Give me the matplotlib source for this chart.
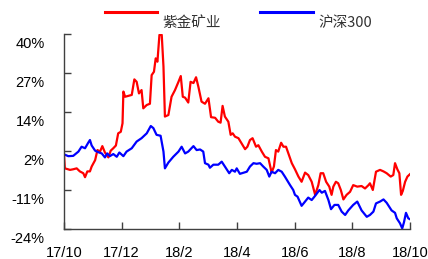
import matplotlib
matplotlib.use("Agg")
import matplotlib.pyplot as plt
from matplotlib.transforms import ScaledTranslation

plt.rcParams['font.family'] = ['Liberation Sans', 'DejaVu Sans']

# x in months since 2017/10, y in %
zj_x = [0.0, 0.03, 0.21, 0.32, 0.44, 0.55, 0.67, 0.73, 0.81, 0.90, 0.96, 1.08, 1.16, 1.25,
        1.33, 1.42, 1.54, 1.62, 1.71, 1.80, 1.88, 1.97, 2.03, 2.06, 2.12, 2.23, 2.35, 2.44,
        2.52, 2.60, 2.69, 2.75, 2.87, 2.98, 3.04, 3.12, 3.18, 3.24, 3.31, 3.39, 3.45, 3.50,
        3.62, 3.73, 3.85, 3.97, 4.05, 4.12, 4.20, 4.31, 4.39, 4.49, 4.58, 4.66, 4.77, 4.89,
        5.01, 5.10, 5.24, 5.35, 5.43, 5.50, 5.58, 5.70, 5.78, 5.85, 5.93, 6.05, 6.16, 6.28,
        6.36, 6.45, 6.54, 6.66, 6.74, 6.86, 6.97, 7.09, 7.20, 7.28, 7.35, 7.43, 7.53, 7.61,
        7.70, 7.78, 7.90, 8.01, 8.13, 8.24, 8.36, 8.47, 8.59, 8.71, 8.82, 8.90, 8.99, 9.09,
        9.20, 9.28, 9.34, 9.43, 9.51, 9.60, 9.69, 9.80, 9.92, 10.03, 10.17, 10.32, 10.44,
        10.56, 10.61, 10.71, 10.82, 10.96, 11.08, 11.19, 11.33, 11.42, 11.48, 11.56, 11.63,
        11.69, 11.75, 11.83, 11.91, 12.0]
zj_y = [0.5, -4.0, -4.5, -4.3, -4.0, -5.0, -5.6, -6.9, -5.0, -5.0, -3.4, -1.3, 2.0, 1.5,
        3.3, 1.2, -0.4, 1.8, 2.6, 3.5, 7.5, 8.0, 10.8, 21.2, 19.5, 19.8, 20.1, 25.2,
        24.4, 20.6, 21.7, 15.7, 16.8, 17.2, 26.6, 27.7, 32.1, 31.0, 39.8, 39.8, 29.4, 13.0,
        13.5, 19.5, 21.7, 24.4, 26.3, 19.5, 19.2, 17.6, 24.4, 24.0, 25.9, 22.8, 17.9, 17.2,
        19.0, 12.8, 12.6, 11.3, 11.0, 16.5, 13.0, 11.3, 7.0, 7.5, 6.4, 5.9, 4.2, 2.3,
        3.1, 5.3, 5.9, 3.1, 3.6, 1.5, -0.2, -0.7, -5.4, -3.4, 2.0, 1.5, 4.4, 3.1,
        3.1, 0.9, -2.3, -4.3, -6.7, -8.4, -5.4, -6.2, -8.4, -12.7, -9.5, -5.6, -5.6, -8.4,
        -10.0, -12.7, -10.0, -8.4, -8.9, -11.1, -14.2, -12.7, -11.7, -9.5, -10.0, -9.8, -10.6,
        -9.5, -8.9, -11.1, -5.1, -4.5, -5.0, -5.6, -6.7, -6.2, -2.3, -4.3, -5.6,
        -12.7, -11.4, -8.4, -6.7, -5.9]

hs_x = [0.0, 0.15, 0.32, 0.50, 0.61, 0.73, 0.84, 0.90, 0.96, 1.08, 1.19, 1.31, 1.42, 1.50,
        1.59, 1.71, 1.83, 1.92, 2.06, 2.17, 2.35, 2.52, 2.69, 2.87, 3.01, 3.10, 3.21, 3.35,
        3.45, 3.50, 3.62, 3.79, 3.97, 4.08, 4.20, 4.31, 4.49, 4.60, 4.72, 4.83, 4.89, 5.01,
        5.06, 5.18, 5.35, 5.47, 5.58, 5.73, 5.82, 5.93, 5.99, 6.10, 6.34, 6.45, 6.57, 6.68,
        6.80, 6.91, 7.03, 7.12, 7.20, 7.32, 7.43, 7.55, 7.66, 7.84, 7.95, 8.01, 8.10, 8.24,
        8.36, 8.47, 8.59, 8.71, 8.86, 8.94, 9.05, 9.17, 9.26, 9.38, 9.51, 9.63, 9.75, 9.86,
        10.03, 10.17, 10.32, 10.50, 10.61, 10.73, 10.82, 10.96, 11.08, 11.19, 11.36, 11.48,
        11.54, 11.65, 11.73, 11.79, 11.86, 11.94, 12.0]
hs_y = [0.6, 0.0, 0.1, 1.5, 3.1, 2.6, 4.4, 5.3, 3.5, 1.8, 1.3, 0.9, -0.4, 0.9,
        0.0, 0.7, -0.2, 1.2, 0.0, 1.5, 2.6, 4.8, 5.9, 7.5, 9.9, 9.2, 7.0, 6.7,
        1.5, -4.0, -2.1, -0.2, 1.5, 3.1, 0.9, 1.5, 3.3, 2.0, 2.2, 1.5, -2.3, -2.8,
        -3.8, -2.8, -2.8, -1.8, -3.4, -5.6, -4.5, -5.1, -4.0, -5.8, -5.1, -3.4, -2.3, -2.5,
        -2.3, -3.4, -4.5, -6.7, -5.1, -5.6, -4.5, -5.1, -6.7, -9.5, -11.1, -12.7, -13.3, -16.3,
        -14.9, -13.6, -14.4, -13.0, -11.1, -12.0, -11.4, -14.4, -17.4, -16.0, -16.0, -18.2, -19.3, -17.8,
        -16.0, -14.9, -17.8, -19.9, -19.3, -18.2, -15.5, -14.9, -14.2, -15.3, -17.8, -18.6,
        -20.4, -22.0, -23.7, -21.7, -18.6, -20.4, -20.7]

x_ticks = [0, 2, 4, 6, 8, 10, 12]
x_labels = ['17/10', '17/12', '18/2', '18/4', '18/6', '18/8', '18/10']
y_ticks = [-24, -11.2, 1.6, 14.4, 27.2, 40]

fig = plt.figure(figsize=(4.28, 2.59), dpi=100)
ax = fig.add_axes([0.1495, 0.1147, 0.8085, 0.7529])

ax.plot(zj_x, zj_y, color='#ff0000', lw=1.6, label='紫金矿业')
ax.plot(hs_x, hs_y, color='#0000ff', lw=1.6, label='沪深300')

ax.set_xlim(0, 12)
ax.set_ylim(-24, 40)
ax.set_xticks(x_ticks)
ax.set_xticklabels(x_labels)
ax.set_yticks(y_ticks)
ax.set_yticklabels(['%d%%' % round(v) for v in y_ticks])

for s in ['top', 'right']:
    ax.spines[s].set_visible(False)
for s in ['left', 'bottom']:
    ax.spines[s].set_color('#404040')
    ax.spines[s].set_linewidth(1.0)

ax.tick_params(axis='both', direction='in', length=5, width=1, color='#404040',
               labelsize=10.5, labelcolor='black')
ax.tick_params(axis='y', pad=14)
ax.tick_params(axis='x', pad=12)

# y labels sit a bit below their ticks
off = ScaledTranslation(0, -8.5 / 100, fig.dpi_scale_trans)
for lab in ax.get_yticklabels():
    lab.set_transform(lab.get_transform() + off)

leg = fig.legend(loc='center', bbox_to_anchor=(0.557, 0.949), ncol=2, frameon=False,
                 handlelength=3.6, handletextpad=0.35, columnspacing=2.7, borderpad=0,
                 prop={'family': ['Noto Sans CJK SC', 'DejaVu Sans'], 'size': 10.5})
for t in leg.get_texts():
    t.set_color('#333333')
    t.set_position((0, -10))
for h in leg.legend_handles:
    h.set_linewidth(2.2)

fig.savefig('out.png', dpi=100)
